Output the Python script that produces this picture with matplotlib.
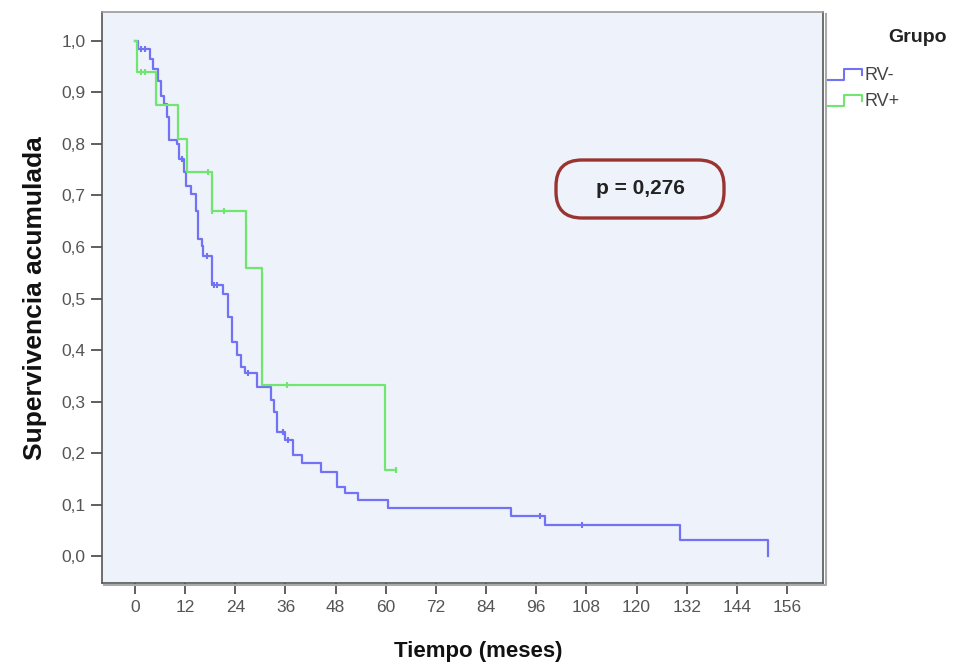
import numpy as np
import matplotlib
matplotlib.use("Agg")
import matplotlib.pyplot as plt
from matplotlib.lines import Line2D
from matplotlib.patches import FancyBboxPatch

# Curva de supervivencia grupo RV- (tiempo del evento, supervivencia tras el evento)
rv_neg_t = [0, 0.8, 3.6, 4.3, 5.5, 6.2, 7.0, 7.6, 8.2, 10.0, 10.6, 11.8, 12.3, 13.5,
            14.6, 15.1, 16.0, 16.3, 18.4, 21.0, 22.3, 23.1, 24.4, 25.4, 26.3, 29.2,
            32.5, 33.3, 34.0, 36.0, 37.8, 40.0, 44.5, 48.3, 50.2, 53.4, 60.5, 90.0,
            98.0, 130.4, 151.4]
rv_neg_s = [1.0, 0.985, 0.965, 0.945, 0.922, 0.893, 0.878, 0.852, 0.808, 0.800, 0.770,
            0.745, 0.718, 0.703, 0.669, 0.615, 0.601, 0.582, 0.527, 0.508, 0.465, 0.416,
            0.391, 0.368, 0.356, 0.329, 0.303, 0.280, 0.241, 0.226, 0.196, 0.180, 0.163,
            0.134, 0.122, 0.109, 0.093, 0.078, 0.060, 0.031, 0.0]
rv_neg_cens_t = [1.5, 2.3, 11.3, 17.2, 18.9, 19.6, 27.0, 35.4, 36.6, 97.0, 107.0]
rv_neg_cens_s = [0.985, 0.985, 0.770, 0.582, 0.527, 0.527, 0.356, 0.241, 0.226, 0.078, 0.060]

# Curva de supervivencia grupo RV+
rv_pos_t = [0, 0.4, 5.0, 10.3, 12.4, 18.4, 26.5, 30.4, 59.8, 62.5]
rv_pos_s = [1.0, 0.940, 0.875, 0.810, 0.745, 0.669, 0.560, 0.333, 0.167, 0.167]
rv_pos_cens_t = [1.5, 2.5, 17.4, 18.4, 21.2, 36.3, 62.5]
rv_pos_cens_s = [0.940, 0.940, 0.745, 0.669, 0.669, 0.333, 0.167]

x_ticks = list(range(0, 157, 12))
y_ticks = [0.0, 0.1, 0.2, 0.3, 0.4, 0.5, 0.6, 0.7, 0.8, 0.9, 1.0]
y_tick_labels = ["0,0", "0,1", "0,2", "0,3", "0,4", "0,5", "0,6", "0,7", "0,8", "0,9", "1,0"]
group_labels = ["RV-", "RV+"]
p_text = "p = 0,276"

blue = "#7272f4"
green = "#70e670"
bg = "#eef2fb"
sans = ["Liberation Sans", "DejaVu Sans"]

W, H = 967, 667
fig = plt.figure(figsize=(W / 100, H / 100), dpi=100)


def px(x, y):
    # pixel position -> figure fraction
    return x / W, 1 - y / H


ax = fig.add_axes([102 / W, 1 - 583 / H, (823 - 102) / W, (583 - 12) / H])
ax.set_facecolor(bg)

ax.plot(rv_neg_t, rv_neg_s, drawstyle="steps-post", color=blue, lw=1.6)
ax.plot(rv_pos_t, rv_pos_s, drawstyle="steps-post", color=green, lw=1.6)
ax.plot(rv_neg_cens_t, rv_neg_cens_s, ls="none", marker="|", ms=5, mew=1.5, color=blue)
ax.plot(rv_pos_cens_t, rv_pos_cens_s, ls="none", marker="|", ms=5, mew=1.5, color=green)

ax.set_xlim(-7.9, 164.6)
ax.set_ylim(-0.052, 1.056)
ax.set_xticks(x_ticks)
ax.set_xticklabels([str(v) for v in x_ticks], family=sans, fontsize=12.5, color="#555555")
ax.set_yticks(y_ticks)
ax.set_yticklabels(y_tick_labels, family=sans, fontsize=12.5, color="#555555")
ax.tick_params(direction="out", length=8, width=1.2, color="#444444", pad=4)

for s in ax.spines.values():
    s.set_color("#555555")
    s.set_linewidth(1.2)
ax.spines["top"].set_color("#999999")

# sombra del marco
xs, ys = [104, 826, 826], [585, 585, 14]
fig.add_artist(Line2D([x / W for x in xs], [1 - y / H for y in ys],
                      transform=fig.transFigure, color="#aaaaaa", lw=1.5))

fig.text(*px(35, 298), "Supervivencia acumulada", rotation=90, ha="center", va="center",
         family=sans, fontsize=19, fontweight="bold", color="#111111")
fig.text(*px(478, 652), "Tiempo (meses)", ha="center", va="center",
         family=sans, fontsize=16, fontweight="bold", color="#111111")

# recuadro con el valor p
box = FancyBboxPatch((5.56, (H - 218) / 100), 1.68, 0.58,
                     boxstyle="round,pad=0,rounding_size=0.26",
                     transform=fig.dpi_scale_trans, facecolor=bg,
                     edgecolor="#9a3431", lw=2.4)
fig.add_artist(box)
fig.text(*px(640, 189), p_text, ha="center", va="center", family=sans,
         fontsize=15, fontweight="bold", color="#222222")

# leyenda
fig.text(*px(888, 37), "Grupo", ha="left", va="center", family=sans,
         fontsize=14, fontweight="bold", color="#222222")
for label, col, yy in zip(group_labels, [blue, green], [78, 104]):
    lx = [828, 844, 844, 862, 862]
    ly = [yy + 2, yy + 2, yy - 9, yy - 9, yy - 3]
    fig.add_artist(Line2D([x / W for x in lx], [1 - y / H for y in ly],
                          transform=fig.transFigure, color=col, lw=1.5))
    fig.text(*px(864, yy - 2), label, ha="left", va="center", family=sans,
             fontsize=13, color="#444444")

fig.savefig("out.png", dpi=100, facecolor="white")
